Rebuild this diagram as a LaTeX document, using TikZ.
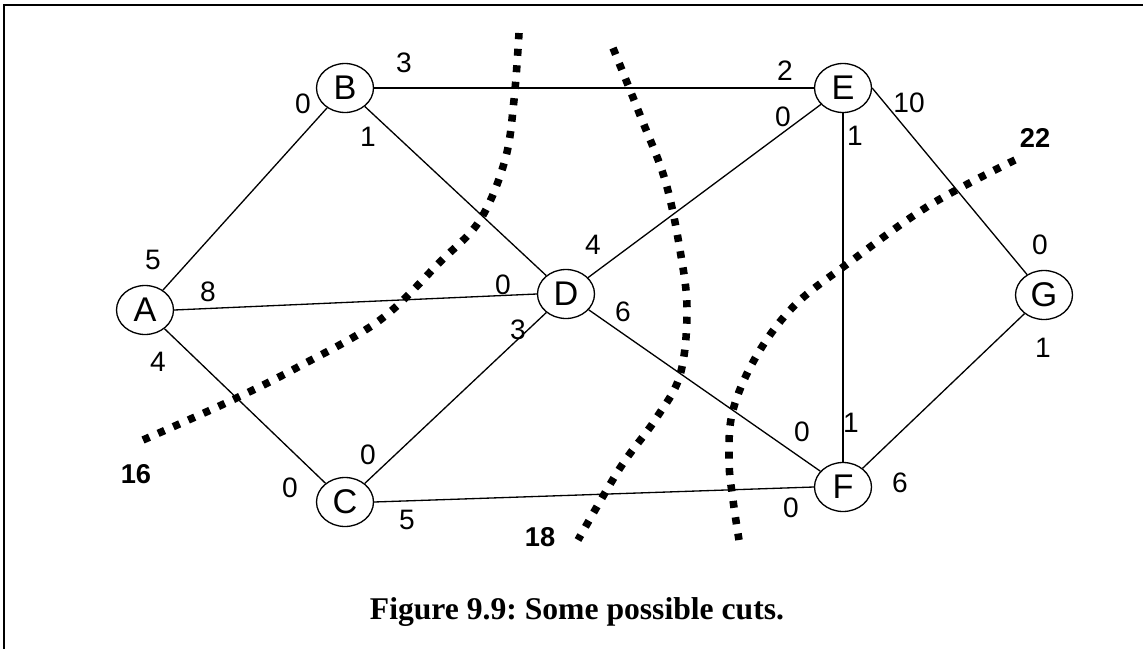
\documentclass[tikz,border=0pt]{standalone}
\usepackage{fontspec}
\setmainfont{Liberation Serif}
\setsansfont{Liberation Sans}
\usepackage{tikz}
\usetikzlibrary{shapes.geometric}

\begin{document}
\begin{tikzpicture}[
            x=0.02cm, y=-0.02cm,                 % 1 unidad = 1 px de la figura
            vertex/.style={
                ellipse,
                draw=black,
                line width=0.75pt,
                minimum width=1.14cm,
                minimum height=0.98cm,
                inner sep=0pt,
                font=\sffamily\fontsize{19.5}{19.5}\selectfont
            },
            link/.style={
                draw,
                line width=0.75pt
            },
            weight/.style={
                inner sep=0pt,
                font=\sffamily\fontsize{16}{16}\selectfont
            },
            cutval/.style={
                inner sep=0pt,
                font=\sffamily\bfseries\fontsize{15.5}{15.5}\selectfont
            },
            cutline/.style={
                line width=4.3pt,
                dash pattern=on 4pt off 5.4pt
            }
        ]
            \useasboundingbox (0,0) rectangle (1143,649);
            % --- MARCO ---
            \draw [line width=1.2pt] (4,649) -- (4,5) -- (1143,5);

            % --- VERTICES ---
            \node [vertex] (A) at (145,310) {A};
            \node [vertex] (B) at (345,88)  {B};
            \node [vertex] (C) at (345,502) {C};
            \node [vertex] (D) at (566,294) {D};
            \node [vertex] (E) at (843,88)  {E};
            \node [vertex] (F) at (843,487) {F};
            \node [vertex] (G) at (1044,295) {G};

            % --- ARISTAS ---
            \path [link] (A) -- (B);
            \path [link] (A) -- (C);
            \path [link] (A.east) -- (D.west);
            \path [link] (B.east) -- (E.west);
            \path [link] (B) -- (D);
            \path [link] (C) -- (D);
            \path [link] (C.east) -- (F.west);
            \path [link] (D) -- (E);
            \path [link] (D) -- (F);
            \path [link] (E) -- (F);
            \path [link] (E.east) -- (G);
            \path [link] (F) -- (G);

            % --- PESOS ---
            \foreach \px/\py/\w [count=\i] in {
                404/63/3, 785/71/2, 303/104/0, 368/137/1,
                783/117/0, 855/136/1, 909/103/10,
                153/260/5, 208/292/8, 158/362/4,
                503/285/0, 593/245/4, 518/330/3, 623/312/6,
                368/455/0, 290/488/0, 407/520/5,
                802/432/0, 851/423/1, 791/508/0, 900/483/6,
                1040/245/0, 1043/348/1}
                \node [weight] (w\i) at (\px,\py) {\w};

            % --- CORTES ---
            \draw [cutline] plot [smooth, tension=0.6] coordinates {
                (143,440) (228,402) (300,366) (380,320) (440,262)
                (480,220) (505,160) (514,100) (519,33)};
            \draw [cutline] plot [smooth, tension=0.6] coordinates {
                (613,48) (640,115) (665,180) (680,250) (687,310)
                (680,375) (655,420) (620,468) (578,540)};
            \draw [cutline] plot [smooth, tension=0.6] coordinates {
                (1015,160) (930,205) (850,262) (795,305) (757,355)
                (733,410) (729,460) (733,500) (739,540)};

            \node [cutval] (c16) at (136,474)  {16};
            \node [cutval] (c18) at (540,537)  {18};
            \node [cutval] (c22) at (1035,138) {22};

            % --- LEYENDA ---
            \node [font=\rmfamily\bfseries\fontsize{18}{18}\selectfont\frenchspacing] (cap) at (577,612)
                {Figure 9.9: Some possible cuts.};
        \end{tikzpicture}
\end{document}
